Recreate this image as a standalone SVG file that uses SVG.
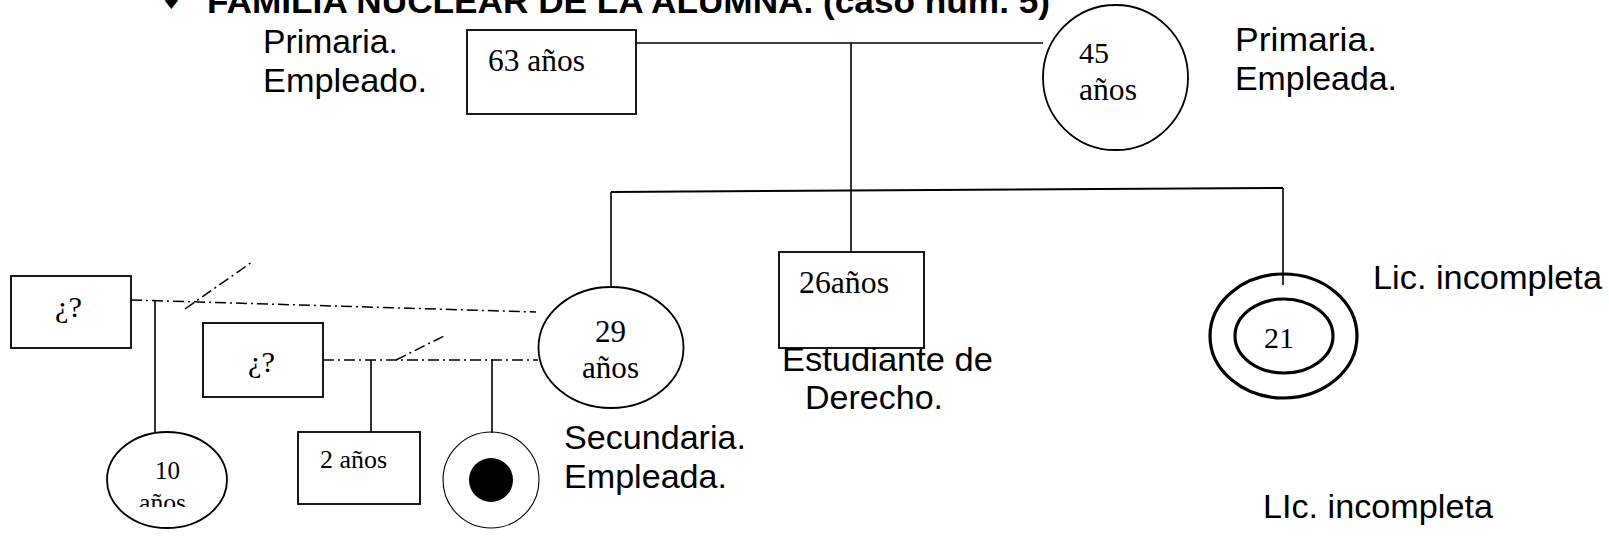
<svg xmlns="http://www.w3.org/2000/svg" width="1609" height="540" viewBox="0 0 1609 540">
<style>
.sans{font-family:"Liberation Sans",Arial,sans-serif;font-size:34px;fill:#000}
.serif{font-family:"Liberation Serif","Times New Roman",serif;fill:#000}
.box{fill:none;stroke:#000;stroke-width:1.8}
.ln{fill:none;stroke:#000;stroke-width:1.6}
.dd{fill:none;stroke:#000;stroke-width:1.5;stroke-dasharray:11 4 2 4}
</style>
<defs>
<clipPath id="clip10"><rect x="100" y="430" width="140" height="77"/></clipPath>
</defs>
<rect width="1609" height="540" fill="#fff"/>
<g id="title">
<text x="161" y="9" style="font-family:'DejaVu Sans',sans-serif;font-size:23px">♦</text>
<text x="207" y="13" class="sans" style="font-weight:bold" textLength="843" lengthAdjust="spacingAndGlyphs">FAMILIA NUCLEAR DE  LA ALUMNA. (caso núm. 5)</text>
</g>
<g id="connectors">
<line class="ln" x1="636" y1="43" x2="1043" y2="43"/>
<line class="ln" x1="851" y1="43" x2="851" y2="252"/>
<line class="ln" x1="611" y1="192" x2="1283" y2="188" style="stroke-width:2"/>
<line class="ln" x1="611" y1="192" x2="611" y2="287"/>
<line class="ln" x1="1283" y1="188" x2="1283" y2="285"/>
<line class="dd" x1="131" y1="300" x2="536" y2="312"/>
<line class="dd" x1="185" y1="309" x2="252" y2="262"/>
<line class="ln" x1="155" y1="300" x2="155" y2="432"/>
<line class="dd" x1="323" y1="360" x2="538" y2="360"/>
<line class="dd" x1="396" y1="360" x2="444" y2="336"/>
<line class="ln" x1="371" y1="360" x2="371" y2="432"/>
<line class="ln" x1="492" y1="359" x2="492" y2="433"/>
</g>
<g id="padre">
<rect class="box" x="467" y="30" width="169" height="84"/>
<text class="serif" x="488" y="71" font-size="31" textLength="97" lengthAdjust="spacingAndGlyphs">63 años</text>
<text class="sans" x="263" y="53" textLength="135" lengthAdjust="spacingAndGlyphs">Primaria.</text>
<text class="sans" x="263" y="92" textLength="164" lengthAdjust="spacingAndGlyphs">Empleado.</text>
</g>
<g id="madre">
<ellipse class="box" cx="1115.5" cy="77.5" rx="72.5" ry="72.5"/>
<text class="serif" x="1079" y="63" font-size="30">45</text>
<text class="serif" x="1079" y="100" font-size="31" textLength="58" lengthAdjust="spacingAndGlyphs">años</text>
<text class="sans" x="1235" y="51" textLength="142" lengthAdjust="spacingAndGlyphs">Primaria.</text>
<text class="sans" x="1235" y="90" textLength="162" lengthAdjust="spacingAndGlyphs">Empleada.</text>
</g>
<g id="hija29">
<ellipse class="box" cx="611" cy="347.5" rx="72.5" ry="60.5"/>
<text class="serif" x="595" y="342" font-size="31">29</text>
<text class="serif" x="582" y="378" font-size="31" textLength="57" lengthAdjust="spacingAndGlyphs">años</text>
<text class="sans" x="564" y="449" textLength="182" lengthAdjust="spacingAndGlyphs">Secundaria.</text>
<text class="sans" x="564" y="488" textLength="163" lengthAdjust="spacingAndGlyphs">Empleada.</text>
</g>
<g id="hijo26">
<text class="sans" x="782" y="371" textLength="211" lengthAdjust="spacingAndGlyphs">Estudiante de</text>
<text class="sans" x="805" y="409" textLength="138" lengthAdjust="spacingAndGlyphs">Derecho.</text>
<rect class="box" x="779" y="252" width="145" height="96" style="fill:#fff"/>
<text class="serif" x="799" y="293" font-size="31" textLength="90" lengthAdjust="spacingAndGlyphs">26años</text>
</g>
<g id="hija21">
<ellipse cx="1283.5" cy="336" rx="73.5" ry="62" fill="none" stroke="#000" stroke-width="3.2"/>
<ellipse cx="1284" cy="336" rx="49" ry="37" fill="none" stroke="#000" stroke-width="3.2"/>
<text class="serif" x="1264" y="348" font-size="30">21</text>
<text class="sans" x="1373" y="289" textLength="229" lengthAdjust="spacingAndGlyphs">Lic. incompleta</text>
<text class="sans" x="1263" y="518" textLength="230" lengthAdjust="spacingAndGlyphs">LIc. incompleta</text>
</g>
<g id="pareja1">
<rect class="box" x="11" y="276" width="120" height="72"/>
<text class="serif" x="55" y="317" font-size="30" textLength="27" lengthAdjust="spacingAndGlyphs">¿?</text>
</g>
<g id="pareja2">
<rect class="box" x="203" y="323" width="120" height="74"/>
<text class="serif" x="248" y="372" font-size="30" textLength="27" lengthAdjust="spacingAndGlyphs">¿?</text>
</g>
<g id="nieta10">
<ellipse class="box" cx="167" cy="480" rx="60" ry="48"/>
<text class="serif" x="155" y="479" font-size="25">10</text>
<text class="serif" x="139" y="511" font-size="25" textLength="47" lengthAdjust="spacingAndGlyphs" clip-path="url(#clip10)">años</text>
</g>
<g id="nieto2">
<rect class="box" x="298" y="432" width="122" height="72"/>
<text class="serif" x="320" y="468" font-size="26" textLength="67" lengthAdjust="spacingAndGlyphs">2 años</text>
</g>
<g id="alumna">
<circle cx="491" cy="480" r="48" fill="none" stroke="#000" stroke-width="1.1"/>
<circle cx="491" cy="480" r="22" fill="#000"/>
</g>
</svg>
